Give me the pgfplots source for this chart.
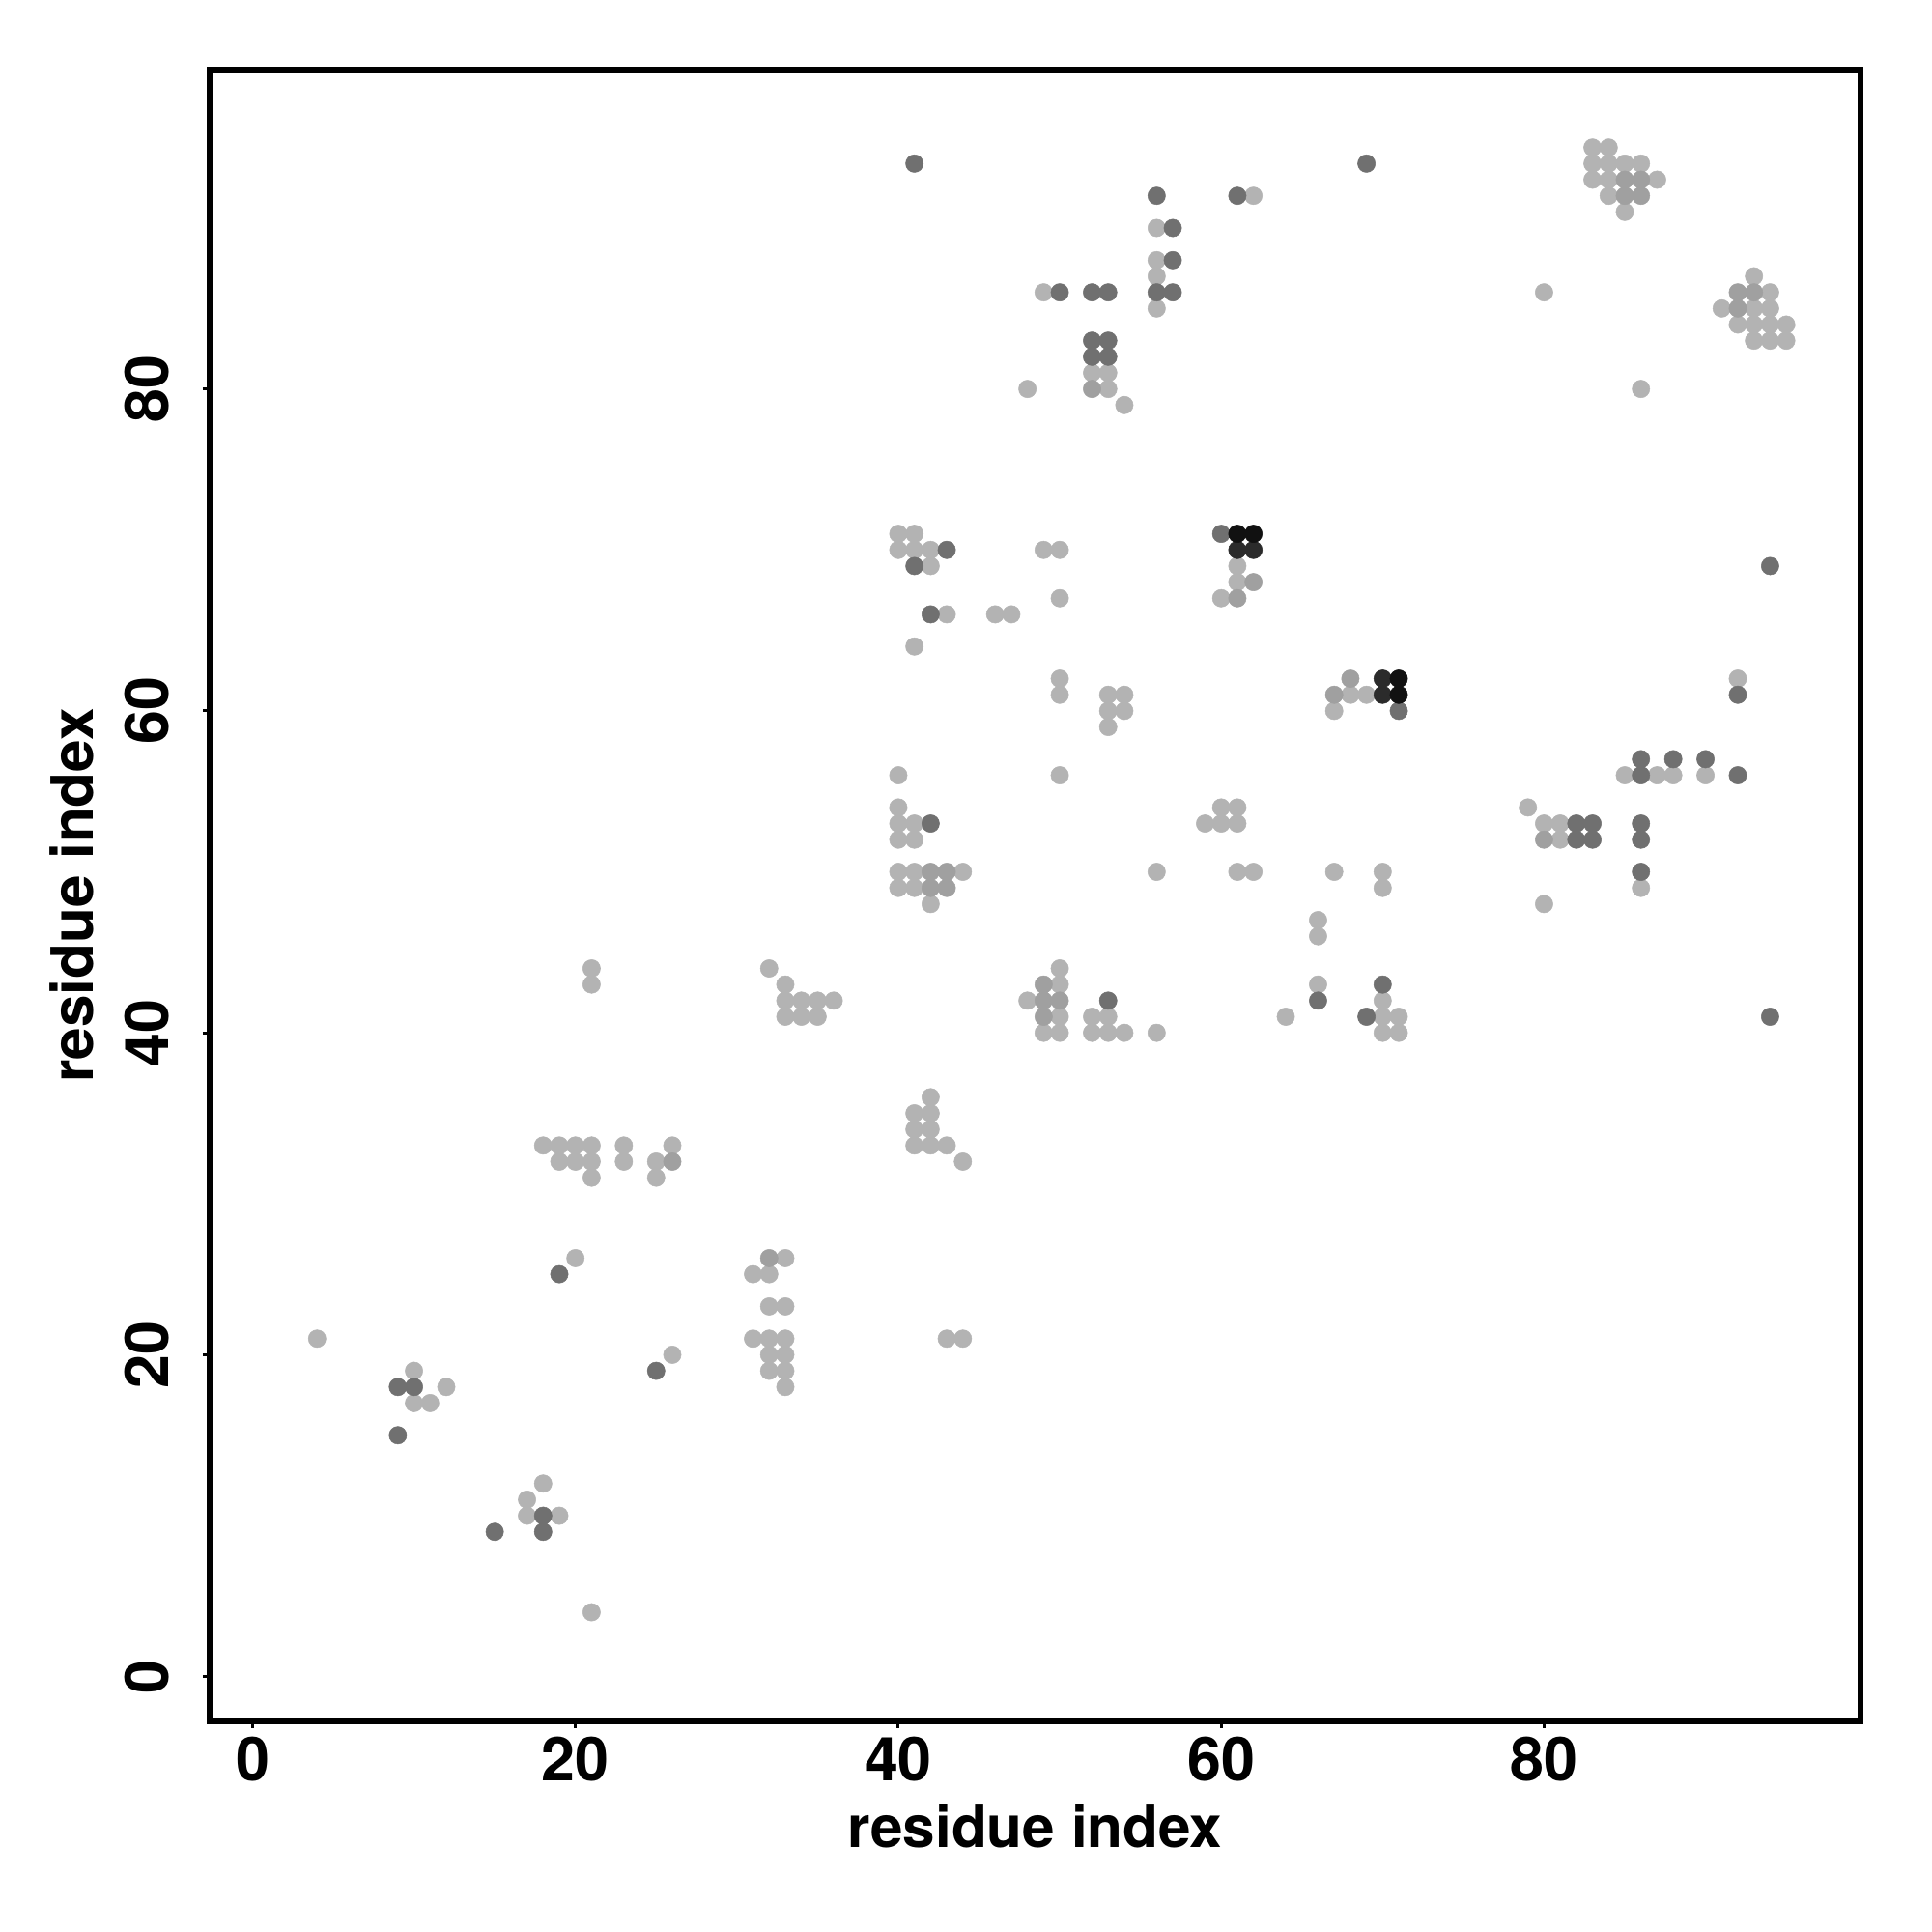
\documentclass[border=0pt]{standalone}
\usepackage{fontspec}
\setmainfont{TeX Gyre Heros}
\usepackage{pgfplots}
\pgfplotsset{compat=1.18}
\definecolor{cA}{HTML}{B3B3B3}
\definecolor{cB}{HTML}{A0A0A0}
\definecolor{cC}{HTML}{707070}
\definecolor{cD}{HTML}{2B2B2B}
\definecolor{cE}{HTML}{111111}
\begin{document}
\begin{tikzpicture}
\begin{axis}[
  scale only axis, width=11.963cm, height=11.963cm,
  xmin=-2.66, xmax=99.6, ymin=-2.76, ymax=99.8,
  axis line style={line width=1.3pt},
  xtick={0,20,40,60,80}, ytick={0,20,40,60,80},
  tick align=outside, major tick length=0.05cm,
  tick style={line width=0.6pt, black},
  xtick pos=left, ytick pos=left,
  /pgf/number format/assume math mode=true,
  ticklabel style={font=\fontsize{12.5}{14}\selectfont\bfseries},
  xticklabel style={yshift=0.06cm},
  yticklabel style={xshift=-0.12cm, rotate=90, anchor=south},
  label style={font=\fontsize{12}{14}\selectfont\bfseries},
  xlabel={residue index}, ylabel={residue index},
  xlabel style={at={(axis description cs:0.5,-0.0635)}, anchor=center},
  ylabel style={at={(axis description cs:-0.0833,0.5)}, anchor=center},
]
\addplot[only marks, mark=*, mark size=1.82pt, mark options={solid, fill=cA, draw=cA, line width=0.1pt}] coordinates {
(4,21) (10,19) (12,18) (10,17) (11,17) (18,12) (17,11) (17,10) (19,10) (21,4)
(21,44) (21,43) (32,44) (33,43) (33,42) (34,42) (35,42) (36,42) (33,41) (34,41) (35,41)
(18,33) (19,33) (20,33) (21,33) (23,33) (26,33)
(19,32) (20,32) (21,32) (23,32) (25,32)
(21,31) (25,31) (20,26) (26,20)
(33,26) (31,25) (32,25) (32,23) (33,23) (31,21) (32,21) (33,21) (32,20) (33,20) (32,19) (33,19) (33,18)
(48,42) (42,36) (41,35) (42,35) (41,34) (42,34) (41,33) (42,33) (43,33) (44,32) (43,21) (44,21)
(40,56) (50,56) (40,54) (40,53) (41,53) (40,52) (41,52) (40,50) (41,50) (44,50) (40,49) (41,49) (42,48) (56,50)
(50,44) (50,43) (50,41) (52,41) (53,41)
(49,40) (50,40) (52,40) (53,40) (54,40) (56,40)
(40,71) (41,71) (40,70) (41,70) (42,70) (49,70) (50,70) (42,69) (50,67) (43,66) (46,66) (47,66) (41,64)
(50,62) (50,61) (53,61) (54,61) (53,60) (54,60) (53,59)
(60,54) (61,54) (59,53) (60,53) (61,53) (61,50) (62,50) (67,50) (70,50) (70,49) (66,47) (66,46) (66,43)
(70,42) (64,41) (70,41) (71,41) (70,40) (71,40)
(61,69) (61,68) (60,67) (68,61) (69,61) (67,60)
(92,62) (85,56) (87,56) (88,56) (90,56) (79,54) (80,53) (81,53) (81,52) (86,49) (80,48)
(56,90) (56,88) (56,87) (49,86) (56,85) (52,81) (53,81) (48,80) (53,80) (54,79) (62,92)
(83,95) (84,95) (83,94) (84,94) (85,94) (86,94) (83,93) (84,93) (87,93) (84,92) (85,91)
(80,86) (93,87) (94,86) (91,85) (93,85) (94,85) (92,84) (93,84) (94,84) (95,84) (93,83) (94,83) (95,83) (86,80)
};
\addplot[only marks, mark=*, mark size=1.82pt, mark options={solid, fill=cB, draw=cB, line width=0.1pt}] coordinates {
(26,32) (32,26) (42,50) (43,50) (42,49) (43,49) (49,43) (49,42) (50,42) (49,41)
(62,68) (61,67) (68,62) (67,61)
(85,93) (86,93) (86,92) (85,92) (92,86) (93,86) (92,85) (52,80) (80,52)
};
\addplot[only marks, mark=*, mark size=1.82pt, mark options={solid, fill=cC, draw=cC, line width=0.1pt}] coordinates {
(9,18) (10,18) (9,15) (18,10) (15,9) (18,9) (19,25) (25,19)
(42,53) (43,70) (41,69) (42,66) (53,42) (66,42) (70,43) (69,41) (60,71) (71,60)
(94,69) (92,61) (86,57) (88,57) (90,57) (86,56) (92,56) (82,53) (83,53) (82,52) (83,52) (86,53) (86,52) (86,50) (94,41)
(41,94) (69,94) (56,92) (61,92) (57,90) (57,88) (50,86) (52,86) (53,86) (56,86) (57,86) (52,83) (53,83) (52,82) (53,82)
};
\addplot[only marks, mark=*, mark size=1.82pt, mark options={solid, fill=cD, draw=cD, line width=0.1pt}] coordinates {
(61,70) (62,70) (70,62) (70,61)
};
\addplot[only marks, mark=*, mark size=1.82pt, mark options={solid, fill=cE, draw=cE, line width=0.1pt}] coordinates {
(61,71) (62,71) (71,62) (71,61)
};
\end{axis}
\path ([shift={(-1.519cm,-1.526cm)}]current axis.south west) rectangle ([shift={(0.518cm,0.509cm)}]current axis.north east);
\end{tikzpicture}
\end{document}
